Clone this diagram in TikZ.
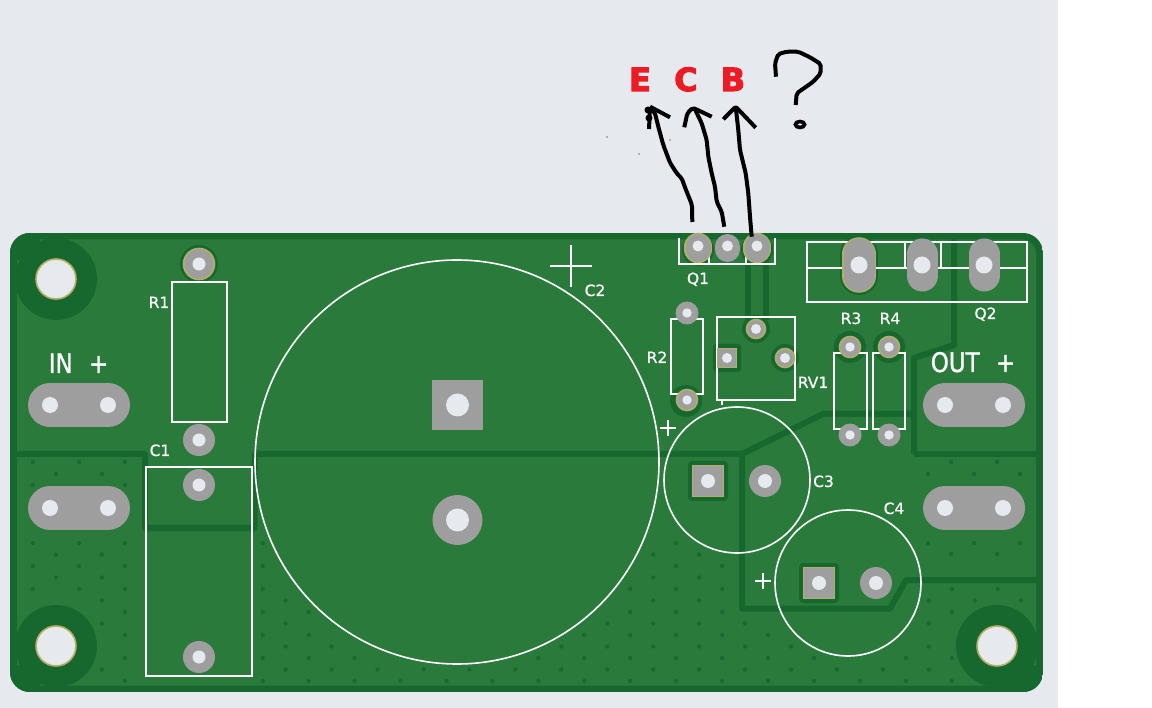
\documentclass[tikz,border=0pt]{standalone}
\usepackage{fontspec}
\setmainfont{DejaVu Sans}
\newfontfamily\smallsilkfont[FakeBold=0.6]{DejaVu Sans}
\newfontfamily\bigsilkfont[FakeStretch=0.85,FakeBold=1.2]{DejaVu Sans}
\newfontfamily\pinfont[FakeBold=3.2]{DejaVu Sans Bold}
\usepackage{xcolor}
\usepackage{tikz}
\definecolor{pagebg}{HTML}{E6E9EE}
\definecolor{boardgreen}{HTML}{2A7A3B}
\definecolor{copperdark}{HTML}{17682F}
\definecolor{viadark}{HTML}{196A32}
\definecolor{padgray}{HTML}{9E9E9E}
\definecolor{padring}{HTML}{B4AE66}
\definecolor{pinred}{HTML}{ED1C24}
% plain round pad: x, y, pad radius, hole radius
\newcommand{\roundpad}[4]{%
  \fill[padgray] (#1,#2) circle (#3);
  \fill[pagebg] (#1,#2) circle (#4);}
% pad with copper clearance and gold ring
\newcommand{\ringpad}[4]{%
  \draw[padring,fill=padgray,line width=1.6] (#1,#2) circle (#3);
  \fill[pagebg] (#1,#2) circle (#4);}
% square pad: x, y, half size, hole radius
\newcommand{\squarepad}[4]{%
  \draw[padring,fill=padgray,line width=1.6] (#1-#3,#2-#3) rectangle (#1+#3,#2+#3);
  \fill[pagebg] (#1,#2) circle (#4);}
% long pad of the input and output connectors
\newcommand{\ovalpad}[2]{%
  \draw[padgray,line width=44,line cap=round] (#1-29,#2) -- (#1+29,#2);
  \fill[pagebg] (#1-29,#2) circle (8) (#1+29,#2) circle (8);}
\begin{document}
\begin{tikzpicture}[x=1pt,y=-1pt]
\tikzstyle{silk}=[draw=white,line width=1.6]
\tikzstyle{silklabel}=[text=white,inner sep=0pt,anchor=base,font=\smallsilkfont\fontsize{15.5}{16}\selectfont]
\tikzstyle{biglabel}=[text=white,inner sep=0pt,anchor=base,font=\bigsilkfont\fontsize{27}{28}\selectfont]
\tikzstyle{pinlabel}=[text=pinred,inner sep=0pt,anchor=base,font=\pinfont\fontsize{32}{33}\selectfont]
\tikzstyle{trace}=[draw=copperdark,line width=6,line join=round]
\tikzstyle{clearance}=[fill=copperdark]
\tikzstyle{scribble}=[draw=black,line width=4,line join=round,rounded corners=2pt]
\useasboundingbox (0,0) rectangle (1152,708);
\fill[white] (0,0) rectangle (1152,708);
\fill[pagebg] (0,0) rectangle (1058,708);

% --- board ---
\begin{scope}
\clip[rounded corners=20pt] (10,233) rectangle (1043,692);
\fill[copperdark] (10,233) rectangle (1043,692);
\fill[boardgreen,rounded corners=14pt] (17,239.5) rectangle (1036,685.5);
% mounting hole clearance
\fill[clearance] (56,279) circle (41) (56,646) circle (41) (997,646) circle (41);
\fill[clearance] (10,233) rectangle (40,260);
\fill[clearance] (10,665) rectangle (40,692);
\fill[clearance] (1010,665) rectangle (1043,692);
\end{scope}

% --- traces ---
\draw[trace] (17,454) -- (145,454) -- (145,528) -- (254.5,528) -- (254.5,454) -- (742,454)
  -- (823,414) -- (914,414);
\draw[trace] (914,454) -- (914,358) -- (954,345) -- (954,237);
\draw[trace] (914,454) -- (1037,454);
\draw[trace] (742,454) -- (742,608.5) -- (890,608.5) -- (906,580) -- (1037,580);
\draw[trace] (748,239) -- (748,320);
\draw[trace] (766,239) -- (766,320);

% --- stitching vias ---
\foreach \k in {0,...,12} {
  \foreach \i in {0,...,43} {
    \pgfmathsetmacro\x{33+22.97*\i}
    \pgfmathsetmacro\y{543+11.5*\k}
    \pgfmathtruncatemacro\keep{(mod(\i+\k,2)==0)
      && (\x<143 || \x>257)
      && !(\x>738 && \x<907 && \y<615)
      && !(\x>=907 && \y<587)
      && (veclen(\x-457,\y-462)>207)
      && (veclen(\x-737,\y-480)>78)
      && (veclen(\x-848,\y-583)>80)
      && (veclen(\x-56,\y-646)>46.65)
      && (veclen(\x-997,\y-646)>46.65)}
    \ifnum\keep=1 \fill[viadark] (\x,\y) circle (2.2); \fi
  }
}
\foreach \x/\y in {33/462,79/462,125/462,56/474,102/474,33/485,125/485,
  951/462,997/462,928/474,974/474,1020/474,928/543,974/543,1020/543,951/554,997/554}
  \fill[viadark] (\x,\y) circle (2.2);

% --- pad clearances ---
\foreach \x/\y/\r in {199/264/19,686/401/16,756/329/14,785/358/14,850/347/16,889/347/16,
  698/250/16,757/250/16}
  \fill[clearance] (\x,\y) circle (\r);
\draw[copperdark,line width=38,line cap=round] (859,254) -- (859,276);
\fill[clearance,rounded corners=3pt] (713,344) rectangle (741,372);
\fill[clearance,rounded corners=4pt] (688,461) rectangle (728,501);
\fill[clearance,rounded corners=4pt] (799,563) rectangle (839,603);

% --- silkscreen ---
\draw[silk] (172,282) rectangle (227,422);
\draw[silk,line width=1.8] (146,467) rectangle (252,676);
\draw[silk] (457,462) circle (202);
\draw[silk] (550,266) -- (592,266) (571,245) -- (571,287);
\draw[silk,line width=2] (679,238) -- (679,264) -- (775,264) -- (775,238);
\draw[silk] (709,256) -- (709,264) (746,256) -- (746,264);
\draw[silk,line width=2] (807,242) rectangle (1027,302);
\draw[silk] (807,268) -- (1027,268) (905,242) -- (905,268) (941,242) -- (941,268);
\draw[silk] (671,319) rectangle (703,394);
\draw[silk] (717,317) rectangle (795,400);
\draw[silk,line width=2] (722,400) -- (722,405);
\draw[silk] (834,353) rectangle (867,429);
\draw[silk] (873,353) rectangle (905,429);
\draw[silk] (737,480) circle (73);
\draw[silk] (660,428) -- (676,428) (668,420) -- (668,436);
\draw[silk] (848,583) circle (73);
\draw[silk] (755,581) -- (771,581) (763,573) -- (763,589);

% --- pads ---
\foreach \x/\y in {56/279,56/646,997/646}
  \draw[padring,fill=pagebg,line width=1.6] (\x,\y) circle (20);
\ringpad{199}{264}{15.5}{6.5}
\roundpad{199}{440}{16}{6.5}
\roundpad{199}{485}{16}{6.5}
\roundpad{199}{657}{16}{6.5}
\ovalpad{79}{405}
\ovalpad{79}{508}
\ovalpad{974}{405}
\ovalpad{974}{508}
% C2
\fill[padgray] (432,380) rectangle (483,430);
\fill[pagebg] (457.5,405) circle (11.5);
\roundpad{457.5}{520}{25}{11.5}
% Q1
\draw[padring,line width=27.5,line cap=round] (698,246.5) -- (698,249.5);
\draw[padring,line width=27.5,line cap=round] (757,246.5) -- (757,249.5);
\foreach \x in {698,727.5,757} {
  \draw[padgray,line width=25,line cap=round] (\x,246.5) -- (\x,249.5);
  \fill[pagebg] (\x,246) circle (5.5);
}
% Q2
\draw[padring,line width=33.5,line cap=round] (859,254) -- (859,276);
\foreach \x in {859,922,984} {
  \draw[padgray,line width=31,line cap=round] (\x,254) -- (\x,276);
  \fill[pagebg] (\x,265) circle (8.5);
}
% R2 R3 R4 RV1
\roundpad{687}{313}{11.5}{4.7}
\ringpad{687}{400}{10.5}{4.7}
\squarepad{727}{358}{9.5}{5}
\ringpad{756}{329}{9.5}{5}
\ringpad{785}{358}{9.5}{5}
\ringpad{850}{347}{10.5}{4.7}
\ringpad{889}{347}{10.5}{4.7}
\roundpad{850}{435}{11.5}{4.7}
\roundpad{889}{435}{11.5}{4.7}
% C3 C4
\squarepad{708}{481}{15.5}{7}
\roundpad{765}{481}{16}{7}
\squarepad{819}{583}{15.5}{7}
\roundpad{876}{583}{16}{7}

% --- labels ---
\node[silklabel] (lblR1) at (159,308) {R1};
\node[silklabel] (lblC1) at (160,456) {C1};
\node[silklabel] (lblC2) at (595,296) {C2};
\node[silklabel] (lblQ1) at (698,284) {Q1};
\node[silklabel] (lblQ2) at (985.5,319) {Q2};
\node[silklabel] (lblR2) at (657,363) {R2};
\node[silklabel] (lblR3) at (851,324) {R3};
\node[silklabel] (lblR4) at (890,324) {R4};
\node[silklabel] (lblRV1) at (813,388) {RV1};
\node[silklabel] (lblC3) at (823.5,487) {C3};
\node[silklabel] (lblC4) at (894,514) {C4};
\node[biglabel] (lblin) at (78.5,373) {IN\hspace{9pt} +};
\node[biglabel] (lblout) at (973,372) {OUT\hspace{9pt} +};
\node[pinlabel] (pinE) at (640,91) {E};
\node[pinlabel] (pinC) at (686,91) {C};
\node[pinlabel] (pinB) at (733,91) {B};

% --- hand drawn arrows ---
\draw[scribble] (692.3,222) -- (692,205) -- (686,190) -- (681.7,178.3) -- (676.7,173.3)
  -- (670,162.7) -- (663.3,145) -- (658.3,126.7) -- (655,113.3) -- (650,106.7);
\draw[scribble] (650,106.7) -- (670,117.3) (650,107.3) -- (649,129);
\fill[black] (648,110) circle (3.5);
\fill[black] (649,118) circle (3.5);
\draw[scribble] (724.3,226.7) -- (721.7,211.7) -- (716.7,201.7) -- (715,186.7) -- (711.7,173.3)
  -- (708.3,156.7) -- (706.7,140) -- (701.7,123.3) -- (695,109.3);
\draw[scribble] (711.7,116.7) -- (692.7,107.7) -- (687.3,113.3) -- (684.3,127.3);
\draw[scribble] (751.7,236.7) -- (750,216.7) -- (748.3,193.3) -- (745.7,173.3) -- (740,150)
  -- (738.3,130) -- (735.7,106.7);
\draw[scribble] (723.3,119.3) -- (735.7,106.7) -- (755.7,127.7);
\draw[scribble] (776,76.7) -- (775,63.3) -- (778.3,54) -- (786.7,51.7) -- (798.3,51.7)
  -- (810,57.3) -- (820.7,64) -- (820.7,73.3) -- (813.3,81.7) -- (796.7,93.3) -- (795.7,105);
\draw[black,line width=3.6] (800,124.5) ellipse (4.6 and 3);
\foreach \x/\y in {607/137,639/154,670/140}
  \fill[black] (\x,\y) circle (0.7);
\end{tikzpicture}
\end{document}
